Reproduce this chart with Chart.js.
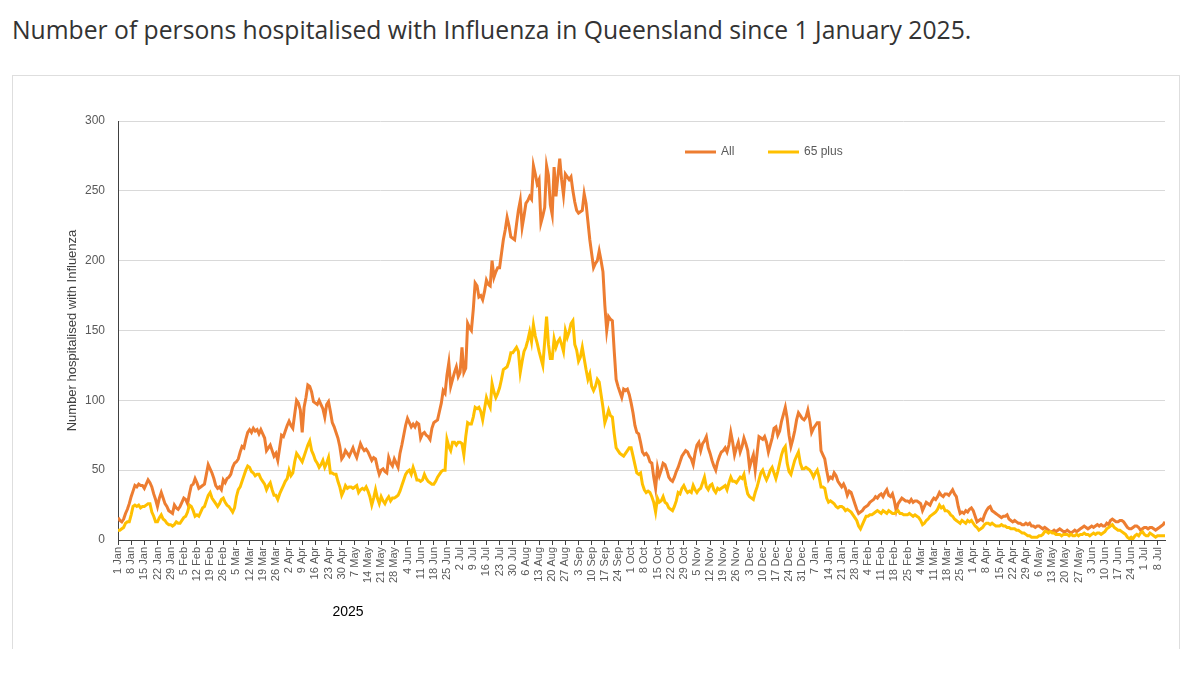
<!DOCTYPE html>
<html>
<head>
<meta charset="utf-8">
<title>Influenza hospitalisations, Queensland</title>
<script src="https://cdn.jsdelivr.net/npm/chart.js@4/dist/chart.umd.min.js"></script>
<style>
  body { margin: 0; background: #fff; font-family: "Open Sans", sans-serif; }
  h1 {
    position: absolute; left: 12px; top: 13px; margin: 0;
    font-size: 24.7px; font-weight: 400; color: #333; white-space: nowrap;
  }
  .box {
    position: absolute; left: 12px; top: 75px; width: 1166px; height: 573px;
    border: 1px solid #dedede; border-bottom: none;
  }
  .box canvas { position: absolute; left: 0; top: 0; }
</style>
</head>
<body>
<h1>Number of persons hospitalised with Influenza in Queensland since 1 January 2025.</h1>
<div class="box"><canvas id="fluChart" width="1166" height="572"></canvas></div>

<script>
// ── DATA (daily, from 1 Jan 2025, one row per week) ─────────

const allCases = [
  16, 14, 13, 15, 19, 22, 26,
  31, 35, 39, 38, 40, 39, 39,
  37, 40, 43, 41, 38, 33, 29,
  24, 30, 34, 30, 26, 24, 21,
  20, 19, 25, 23, 22, 24, 27,
  30, 29, 26, 33, 39, 40, 44,
  41, 37, 38, 39, 40, 47, 54,
  51, 48, 44, 39, 37, 38, 36,
  43, 41, 44, 45, 47, 52, 55,
  56, 58, 63, 67, 66, 72, 77,
  79, 77, 80, 78, 79, 76, 79,
  76, 73, 64, 66, 68, 64, 60,
  62, 57, 66, 75, 74, 78, 82,
  85, 82, 80, 90, 100, 98, 93,
  77, 95, 102, 111, 110, 106, 99,
  98, 97, 100, 97, 94, 88, 97,
  99, 92, 84, 81, 77, 73, 67,
  58, 60, 64, 62, 60, 63, 66,
  62, 59, 64, 69, 66, 64, 65,
  63, 60, 57, 59, 58, 52, 47,
  50, 51, 49, 48, 59, 55, 53,
  58, 55, 52, 62, 68, 75, 82,
  87, 84, 81, 83, 81, 84, 83,
  73, 76, 77, 75, 74, 72, 80,
  84, 85, 86, 92, 98, 107, 105,
  118, 127, 110, 115, 120, 124, 117,
  120, 138, 120, 123, 155, 152, 150,
  165, 184, 182, 174, 175, 172, 178,
  186, 183, 182, 200, 188, 192, 195,
  195, 205, 215, 222, 231, 225, 217,
  216, 215, 226, 236, 243, 224, 232,
  241, 243, 246, 244, 268, 262, 255,
  258, 227, 232, 238, 268, 261, 240,
  233, 267, 246, 260, 273, 258, 247,
  262, 260, 258, 260, 250, 242, 236,
  234, 235, 236, 248, 241, 228, 215,
  205, 195, 198, 200, 207, 200, 192,
  168, 150, 160, 158, 157, 135, 115,
  110, 106, 102, 108, 107, 108, 104,
  98, 91, 82, 77, 76, 70, 63,
  61, 62, 60, 56, 55, 45, 37,
  52, 46, 50, 55, 54, 50, 45,
  43, 42, 45, 49, 52, 56, 60,
  62, 64, 63, 60, 58, 54, 62,
  68, 70, 64, 69, 71, 74, 66,
  62, 57, 53, 50, 56, 60, 63,
  64, 66, 63, 68, 77, 70, 61,
  66, 70, 63, 67, 73, 69, 64,
  52, 57, 61, 50, 62, 74, 73,
  72, 74, 70, 63, 68, 73, 80,
  81, 75, 78, 85, 90, 95, 87,
  75, 67, 72, 78, 86, 91, 89,
  87, 86, 88, 93, 86, 77, 80,
  82, 84, 84, 64, 61, 58, 50,
  43, 45, 44, 48, 46, 42, 40,
  38, 40, 37, 32, 35, 34, 30,
  26, 22, 19, 20, 21, 23, 24,
  25, 27, 28, 29, 31, 30, 32,
  33, 31, 34, 36, 32, 31, 33,
  28, 21, 26, 28, 30, 29, 28,
  28, 27, 29, 27, 28, 28, 27,
  26, 21, 24, 27, 26, 25, 28,
  30, 29, 31, 34, 32, 31, 33,
  33, 32, 34, 36, 33, 31, 24,
  19, 20, 19, 21, 20, 22, 23,
  21, 17, 13, 14, 15, 14, 18,
  21, 23, 24, 21, 20, 19, 18,
  17, 16, 17, 17, 18, 15, 14,
  13, 14, 13, 12, 12, 11, 11,
  12, 11, 12, 10, 10, 9, 10,
  10, 9, 8, 9, 8, 7, 6,
  6, 7, 6, 7, 8, 7, 6,
  6, 7, 6, 5, 6, 7, 6,
  7, 8, 9, 10, 9, 8, 9,
  10, 9, 10, 11, 10, 11, 10,
  10, 12, 11, 14, 15, 14, 13,
  13, 14, 14, 13, 11, 9, 8,
  8, 9, 10, 10, 9, 7, 8,
  9, 9, 8, 9, 9, 8, 7,
  8, 9, 10, 11, 13
];

const over65Cases = [
  7, 7, 8, 9, 12, 13, 13,
  18, 24, 25, 24, 25, 23, 24,
  24, 25, 26, 26, 20, 17, 13,
  13, 16, 18, 15, 14, 12, 11,
  11, 10, 11, 13, 12, 12, 14,
  16, 17, 20, 25, 24, 21, 17,
  18, 17, 20, 23, 24, 28, 32,
  34, 30, 28, 26, 24, 26, 29,
  30, 27, 25, 24, 22, 20, 23,
  31, 36, 38, 42, 46, 50, 53,
  52, 49, 48, 46, 47, 47, 44,
  42, 40, 36, 39, 41, 36, 32,
  32, 29, 33, 36, 39, 42, 44,
  50, 46, 48, 56, 62, 60, 58,
  56, 60, 64, 68, 71, 64, 61,
  57, 55, 52, 54, 57, 52, 55,
  59, 48, 48, 47, 47, 42, 38,
  32, 35, 39, 37, 38, 38, 37,
  38, 39, 34, 36, 37, 36, 38,
  35, 31, 25, 30, 36, 30, 26,
  31, 28, 26, 29, 31, 28, 30,
  30, 31, 32, 35, 39, 43, 47,
  49, 50, 47, 52, 48, 43, 43,
  42, 43, 47, 44, 42, 41, 40,
  40, 42, 45, 47, 49, 50, 50,
  72, 67, 64, 70, 70, 68, 70,
  70, 69, 61, 74, 84, 83, 83,
  88, 95, 94, 95, 92, 86, 94,
  102, 98, 95, 112, 106, 102, 105,
  109, 115, 122, 123, 124, 128, 134,
  134, 136, 138, 135, 120, 128, 135,
  138, 143, 149, 142, 154, 146, 141,
  135, 130, 125, 142, 160, 140, 130,
  130, 144, 138, 142, 144, 140, 135,
  150, 145, 149, 155, 157, 140, 136,
  128, 131, 138, 130, 122, 115, 119,
  110, 107, 110, 115, 113, 104, 95,
  84, 88, 93, 89, 88, 76, 66,
  64, 62, 61, 60, 62, 64, 66,
  66, 60, 54, 48, 47, 48, 40,
  36, 34, 35, 34, 31, 27, 20,
  30, 27, 28, 31, 27, 26, 23,
  22, 21, 24, 28, 34, 33, 37,
  39, 36, 34, 35, 34, 39, 36,
  34, 36, 37, 41, 45, 38, 36,
  39, 40, 36, 34, 37, 36, 37,
  38, 39, 36, 41, 45, 42, 42,
  41, 43, 45, 44, 47, 39, 33,
  31, 30, 29, 34, 38, 43, 48,
  50, 46, 43, 46, 50, 52, 48,
  44, 49, 55, 61, 65, 67, 55,
  49, 47, 52, 57, 60, 63, 55,
  51, 51, 52, 51, 50, 48, 45,
  48, 50, 45, 38, 38, 37, 30,
  27, 28, 27, 26, 24, 23, 24,
  24, 23, 21, 22, 21, 20, 18,
  16, 14, 10, 8, 11, 14, 17,
  17, 18, 18, 19, 20, 21, 20,
  19, 21, 20, 19, 21, 20, 19,
  19, 20, 21, 19, 19, 18, 18,
  18, 19, 18, 17, 18, 17, 16,
  14, 11, 12, 14, 15, 17, 18,
  19, 20, 22, 25, 23, 24, 21,
  21, 20, 18, 17, 15, 14, 13,
  12, 14, 13, 12, 14, 13, 14,
  12, 10, 9, 7, 8, 9, 11,
  12, 12, 11, 12, 11, 10, 10,
  10, 11, 10, 10, 9, 9, 8,
  8, 8, 7, 7, 6, 5, 5,
  4, 3, 3, 2, 2, 2, 2,
  3, 3, 4, 6, 6, 5, 6,
  5, 5, 4, 4, 4, 3, 4,
  4, 4, 3, 4, 3, 3, 4,
  3, 4, 4, 5, 4, 4, 3,
  4, 5, 4, 5, 5, 4, 5,
  6, 8, 9, 10, 11, 9, 8,
  7, 7, 6, 5, 4, 2, 1,
  2, 1, 3, 4, 3, 5, 6,
  4, 3, 3, 5, 4, 3, 2,
  3, 3, 3, 3, 3
];

// weekly tick labels, every 7th day from 1 Jan 2025
const tickLabels = [
  '1 Jan', '8 Jan', '15 Jan', '22 Jan', '29 Jan', '5 Feb', '12 Feb', '19 Feb', '26 Feb',
  '5 Mar', '12 Mar', '19 Mar', '26 Mar', '2 Apr', '9 Apr', '16 Apr', '23 Apr', '30 Apr',
  '7 May', '14 May', '21 May', '28 May', '4 Jun', '11 Jun', '18 Jun', '25 Jun',
  '2 Jul', '9 Jul', '16 Jul', '23 Jul', '30 Jul', '6 Aug', '13 Aug', '20 Aug', '27 Aug',
  '3 Sep', '10 Sep', '17 Sep', '24 Sep', '1 Oct', '8 Oct', '15 Oct', '22 Oct', '29 Oct',
  '5 Nov', '12 Nov', '19 Nov', '26 Nov', '3 Dec', '10 Dec', '17 Dec', '24 Dec', '31 Dec',
  '7 Jan', '14 Jan', '21 Jan', '28 Jan', '4 Feb', '11 Feb', '18 Feb', '25 Feb',
  '4 Mar', '11 Mar', '18 Mar', '25 Mar', '1 Apr', '8 Apr', '15 Apr', '22 Apr', '29 Apr',
  '6 May', '13 May', '20 May', '27 May', '3 Jun', '10 Jun', '17 Jun', '24 Jun',
  '1 Jul', '8 Jul'
];

const yTicks = [0, 50, 100, 150, 200, 250, 300];
const seriesNames = ['All', '65 plus'];
const seriesColours = ['#ED7D31', '#FFC000'];


// ── LEGEND + YEAR LABEL ─────────────────────────────────────

const TEXT_FONT = '"Liberation Sans", Arial, sans-serif';

const overlay = {
  id: 'overlay',
  afterDraw(chart) {
    const c = chart.ctx;
    c.save();
    c.lineWidth = 3;
    c.font = '12px ' + TEXT_FONT;
    c.textBaseline = 'middle';
    c.fillStyle = '#595959';
    const legendX = [672, 755];
    seriesNames.forEach((name, i) => {
      c.strokeStyle = seriesColours[i];
      c.beginPath();
      c.moveTo(legendX[i], 76);
      c.lineTo(legendX[i] + 31, 76);
      c.stroke();
      c.fillText(name, legendX[i] + 36, 76);
    });
    c.fillStyle = '#000';
    c.font = '14px ' + TEXT_FONT;
    c.textAlign = 'center';
    c.fillText('2025', 335, 536);
    c.restore();
  }
};


// ── CHART ───────────────────────────────────────────────────

const toPoints = arr => arr.map((v, i) => ({ x: i, y: v }));

new Chart(document.getElementById('fluChart'), {
  type: 'line',
  data: {
    datasets: [
      {
        label: seriesNames[0],
        data: toPoints(allCases),
        borderColor: seriesColours[0],
        borderWidth: 3,
        pointRadius: 0,
        order: 2
      },
      {
        label: seriesNames[1],
        data: toPoints(over65Cases),
        borderColor: seriesColours[1],
        borderWidth: 3,
        pointRadius: 0,
        order: 1
      }
    ]
  },
  options: {
    responsive: false,
    animation: false,
    devicePixelRatio: 1,
    layout: { padding: { top: 45, right: 14, left: 0, bottom: 0 } },
    plugins: {
      legend: { display: false },
      tooltip: { enabled: false }
    },
    scales: {
      x: {
        type: 'linear',
        min: 0,
        max: allCases.length - 1,
        afterFit: s => { s.height = 108; },
        border: { color: '#404040', width: 1 },
        grid: { drawOnChartArea: false, drawTicks: true, tickLength: 5, color: '#404040' },
        ticks: {
          stepSize: 7,
          maxTicksLimit: 200,
          includeBounds: false,
          autoSkip: false,
          minRotation: 90,
          maxRotation: 90,
          padding: 2,
          color: '#595959',
          font: { family: TEXT_FONT, size: 11 },
          callback: v => tickLabels[Math.round(v / 7)]
        }
      },
      y: {
        min: 0,
        max: 300,
        afterFit: s => { s.width = 105; },
        afterBuildTicks: s => { s.ticks = yTicks.map(v => ({ value: v })); },
        border: { color: '#404040', width: 1 },
        grid: { color: '#d9d9d9', drawTicks: false },
        ticks: {
          padding: 13,
          color: '#595959',
          font: { family: TEXT_FONT, size: 12 }
        },
        title: {
          display: true,
          text: 'Number hospitalised with Influenza',
          color: '#404040',
          font: { family: TEXT_FONT, size: 13 },
          padding: { top: 52, bottom: 0 }
        }
      }
    }
  },
  plugins: [overlay]
});
</script>
</body>
</html>
